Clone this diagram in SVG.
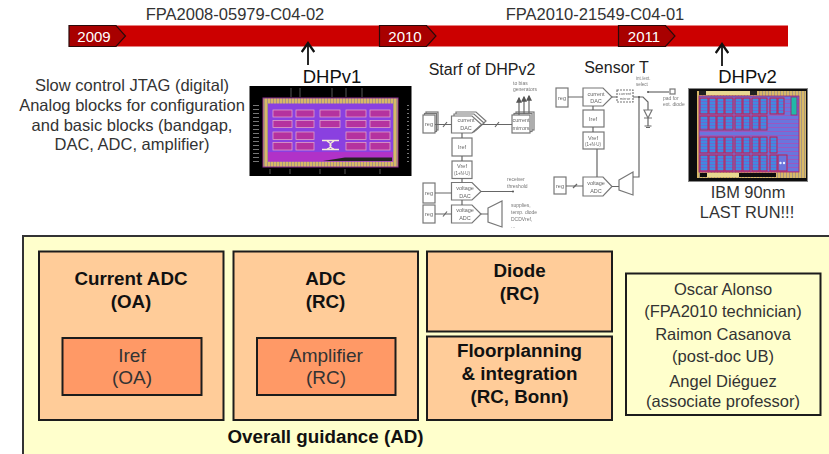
<svg xmlns="http://www.w3.org/2000/svg" width="829" height="454" viewBox="0 0 829 454">
<style>
text{font-family:"Liberation Sans",Arial,sans-serif;text-anchor:middle}
.lbl{fill:#333}
.sm{fill:#666;font-size:5.500px}
.tiny{fill:#777;font-size:5px;text-anchor:start}
.year{fill:#fff;font-size:15px}
.mark{fill:#a80000;stroke:#2a0a0a;stroke-width:1.2}
.box{fill:#ffcc99;stroke:#1c1c1c;stroke-width:2}
.inner{fill:#ff9966;stroke:#1c1c1c;stroke-width:2}
.b{font-weight:bold;font-size:18.800px;fill:#111}
.r{font-size:19px;fill:#333}
.p{font-size:16.500px;fill:#333}
.s{fill:#fff;stroke:#777;stroke-width:1.2}
.w{fill:none;stroke:#666;stroke-width:1.2}
.ar{fill:none;stroke:#111;stroke-width:1.8}
.b1{fill:#b5309f;stroke:#e0a0c8;stroke-width:.8}
.b2{fill:url(#cells);stroke:#c0204f;stroke-width:1}
</style>
<defs>
<filter id="soft" x="-5%" y="-5%" width="110%" height="110%"><feGaussianBlur stdDeviation="0.45"/></filter>
<pattern id="pads" width="3" height="3" patternUnits="userSpaceOnUse"><rect width="3" height="3" fill="#d8b868"/><rect width="1" height="3" fill="#a89880"/></pattern>
<pattern id="cells" width="8" height="3" patternUnits="userSpaceOnUse"><rect width="8" height="3" fill="#3f8ae0"/><rect y="2" width="8" height="1" fill="#6a68d0"/></pattern>
<pattern id="stripes" width="8" height="4" patternUnits="userSpaceOnUse"><rect width="8" height="4" fill="#6a74dc"/><rect y="3" width="8" height="1" fill="#9a58c0"/></pattern>
<pattern id="ticks" width="14" height="4" patternUnits="userSpaceOnUse"><rect x="1" y="1" width="6" height="1" fill="#777"/></pattern>
<marker id="ah" markerWidth="8" markerHeight="8" refX="6" refY="4" orient="auto"><path d="M1 0.5L6 4L1 7.5" fill="none" stroke="#111" stroke-width="1.3"/></marker>
<marker id="as" markerWidth="5" markerHeight="5" refX="4" refY="2.5" orient="auto"><path d="M0 0L5 2.5L0 5Z" fill="#555"/></marker>
</defs>
<rect width="829" height="454" fill="#fff"/>

<g id="timeline">
<rect x="69" y="25.500" width="719" height="21" fill="#cc0000"/>
<path class="mark" d="M69 25.500H116L125.500 36L116 46.500H69Z"/>
<text class="year" x="94" y="41.500">2009</text>
<path class="mark" d="M379.500 25.500H426.500L436 36L426.500 46.500H379.500Z"/>
<text class="year" x="405" y="41.500">2010</text>
<path class="mark" d="M618.500 25.500H665.500L675 36L665.500 46.500H618.500Z"/>
<text class="year" x="644" y="41.500">2011</text>
<text class="lbl" x="235" y="20" font-size="16.500">FPA2008-05979-C04-02</text>
<text class="lbl" x="595" y="20" font-size="16.500">FPA2010-21549-C04-01</text>
</g>

<g id="connectors">
<path class="ar" d="M308 65V43" marker-end="url(#ah)"/>
<path class="ar" d="M722 66V44" marker-end="url(#ah)"/>
</g>

<g id="intro-text">
<text class="lbl" font-size="16.500" x="132" y="90.500">Slow control JTAG (digital)</text>
<text class="lbl" font-size="16.500" x="132" y="110.500">Analog blocks for configuration</text>
<text class="lbl" font-size="16.500" x="132" y="130.500">and basic blocks (bandgap,</text>
<text class="lbl" font-size="16.500" x="132" y="150">DAC, ADC, amplifier)</text>
</g>

<g id="dhpv1">
<text x="332" y="83" font-size="18.500" fill="#111">DHPv1</text>
<g filter="url(#soft)">
<rect x="249.500" y="86" width="162" height="90" fill="#050505"/>
<rect x="252" y="104" width="10" height="60" fill="url(#ticks)"/><rect x="399" y="104" width="10" height="60" fill="url(#ticks)"/>
<path d="M291 88V97M300 88V97M332 88V97M346 88V97M362 88V97M270 169V174M290 169V174M320 169V174M345 169V174M380 169V174" stroke="#777" stroke-width=".7"/>
<rect x="263" y="98" width="135" height="69" fill="url(#pads)" stroke="#8a2f90"/>
<rect x="268" y="103.500" width="125" height="58" fill="#8a40e0"/>
<rect x="268" y="152" width="125" height="9.500" fill="#b030c8"/>
<g>
<rect class="b1" x="273" y="110" width="19" height="7"/><rect class="b1" x="296" y="110" width="18" height="7"/><rect class="b1" x="320" y="110" width="20" height="7"/><rect class="b1" x="346" y="110" width="20" height="7"/><rect class="b1" x="370" y="110" width="20" height="7"/>
<rect class="b1" x="273" y="120.500" width="19" height="7"/><rect class="b1" x="296" y="120.500" width="18" height="7"/><rect class="b1" x="320" y="120.500" width="20" height="7"/><rect class="b1" x="346" y="120.500" width="20" height="7"/><rect class="b1" x="370" y="120.500" width="20" height="7"/>
<rect class="b1" x="273" y="132" width="19" height="7.500"/><rect class="b1" x="296" y="132" width="18" height="7.500"/><rect class="b1" x="346" y="132" width="20" height="7.500"/><rect class="b1" x="370" y="132" width="20" height="7.500"/>
<rect class="b1" x="273" y="142.500" width="19" height="7.500"/><rect class="b1" x="296" y="142.500" width="18" height="7.500"/><rect class="b1" x="346" y="142.500" width="20" height="7.500"/><rect class="b1" x="370" y="142.500" width="20" height="7.500"/>
</g>
<path d="M322 140.500H339M322 149.500H339M327 141C330 143 331 144 331 145C331 146 330 148 327 149M334 141C331 143 330 144 330 145C330 146 331 148 334 149" stroke="#f4ecd8" stroke-width="1.300" fill="none"/>
<path d="M323 161L345 157.500H392V161Z" fill="#222"/>
</g>
</g>

<g id="starf" filter="url(#soft)">
<rect class="s" x="426" y="112" width="12" height="18"/><rect class="s" x="424.500" y="113.500" width="12" height="18"/><rect class="s" x="423" y="115" width="12" height="18"/>
<path class="s" d="M456 112H476L486 121L476 130H456Z"/><path class="s" d="M454 114H474L484 123L474 132H454Z"/><path class="s" d="M451.500 116H472L481.500 124.500L472 133H451.500Z"/>
<rect class="s" x="516" y="112" width="18" height="18"/><rect class="s" x="514" y="113.500" width="18" height="18"/><rect class="s" x="512" y="115" width="18" height="18"/>
<rect class="s" x="452" y="138" width="20" height="18"/>
<rect class="s" x="452" y="161" width="20" height="17.500"/>
<path class="s" d="M451.500 182.500H472L481 191.500L472 200H451.500Z"/>
<rect class="s" x="423" y="183" width="12" height="20"/>
<path class="s" d="M451.500 205H472L481 214L472 223H451.500Z"/>
<rect class="s" x="423" y="205" width="12" height="18"/>
<path class="s" d="M488 208L502 201V227L488 222Z"/>
<path class="w" d="M435 124.500H451.500M481.500 124.500H512M462 133V138M462 156V161M462 178.500V182.500M462 200V205M435 193H451.500M481 191.500H513M435 214H451.500M481 214H488"/>
<path class="w" d="M443 127L447 122M495 127L499 122M443 216.500L447 211.500"/>
<path class="w" d="M519 115V98" marker-end="url(#as)"/><path class="w" d="M524 114V97" marker-end="url(#as)"/><path class="w" d="M529 113V96" marker-end="url(#as)"/>
<circle cx="513" cy="191.500" r="1" fill="#555"/>
</g>
<text x="482" y="75" font-size="16" fill="#222" id="starf-title">Starf of DHPv2</text>
<g id="starf-text" filter="url(#soft)">
<text class="sm" x="429" y="126">reg</text>
<text class="sm" x="466" y="122">current</text><text class="sm" x="466" y="130">DAC</text>
<text class="sm" x="521" y="122">current</text><text class="sm" x="521" y="130">mirrors</text>
<text class="sm" x="462" y="149">Iref</text>
<text class="sm" x="462" y="168">Vref</text><text class="sm" x="462" y="175" style="font-size:4.500px">(1+N·U)</text>
<text class="sm" x="465" y="190">voltage</text><text class="sm" x="465" y="198">DAC</text>
<text class="sm" x="429" y="195">reg</text>
<text class="sm" x="465" y="212">voltage</text><text class="sm" x="465" y="220">ADC</text>
<text class="sm" x="429" y="216">reg</text>
<text class="tiny" x="513" y="85">to bias</text><text class="tiny" x="513" y="91">generators</text>
<text class="tiny" x="507" y="181">receiver</text><text class="tiny" x="507" y="188">threshold</text>
<text class="tiny" x="511" y="207">supplies,</text><text class="tiny" x="511" y="214">temp. diode</text><text class="tiny" x="511" y="221">DCDVref,</text><text class="tiny" x="511" y="228">...</text>
</g>

<g id="sensor" filter="url(#soft)">
<rect class="s" x="556" y="88" width="12" height="19"/>
<path class="s" d="M583 88H603L612 97L603 106H583Z"/>
<rect class="s" x="617" y="90" width="16" height="12" stroke-dasharray="2 1"/>
<rect class="s" x="583" y="110" width="21" height="17"/>
<rect class="s" x="583" y="132" width="21" height="17"/>
<path class="s" d="M583 177H603L612 186.500L603 196H583Z"/>
<rect class="s" x="554" y="177" width="12" height="17"/>
<path class="s" d="M619 180L633 172V195L619 190Z"/>
<path class="w" d="M568 97H583M612 97H617M633 97H643L648 102V110M648 118V126M644.500 126H651.500M646 127.500H650M593 106V110M593 127V132M597 149V177M566 186H583M612 186.500H619M633 177H639V97"/>
<path class="w" d="M648 92H669"/>
<path class="w" d="M573 188L577 184"/>
<path class="s" d="M644 110H652L648 118ZM644 118H652"/>
<rect class="s" x="670" y="89" width="5" height="5"/>
<circle cx="648" cy="92" r="1" fill="#555"/><circle cx="639" cy="97" r="1" fill="#555"/>
</g>
<text x="616.500" y="73" font-size="16" fill="#222" id="sensor-title">Sensor T</text>
<g id="sensor-text" filter="url(#soft)">
<text class="sm" x="562" y="100">reg</text>
<text class="sm" x="596" y="96">current</text><text class="sm" x="596" y="103">DAC</text>
<text class="sm" x="625" y="95" style="font-size:4px">current</text><text class="sm" x="625" y="100" style="font-size:4px">mirror</text>
<text class="sm" x="593" y="121">Iref</text>
<text class="sm" x="593" y="140">Vref</text><text class="sm" x="593" y="146" style="font-size:4.500px">(1+N·U)</text>
<text class="sm" x="596" y="185">voltage</text><text class="sm" x="596" y="193">ADC</text>
<text class="sm" x="560" y="188">reg</text>
<text class="tiny" x="636" y="80" style="font-size:4.500px">int./ext.</text><text class="tiny" x="636" y="86" style="font-size:4.500px">select</text>
<text class="tiny" x="663" y="100">pad for</text><text class="tiny" x="663" y="106">ext. diode</text>
</g>

<g id="dhpv2">
<text x="747.500" y="83" font-size="18.500" fill="#111">DHPv2</text>
<g filter="url(#soft)">
<rect x="688.500" y="88.500" width="119" height="93" fill="#0c0c0c" stroke="#888"/>
<rect x="693" y="91" width="113" height="87" fill="url(#pads)"/>
<rect x="693" y="91" width="4" height="87" fill="#0c0c0c"/>
<rect x="699" y="96" width="100" height="76" fill="url(#stripes)" stroke="#a02070" stroke-width=".8"/>
<rect x="699" y="91" width="7" height="4" fill="#222"/><rect x="706" y="91" width="44" height="4" fill="#e8d890"/><rect x="750" y="91" width="7" height="4" fill="#222"/>
<rect x="700" y="173" width="76" height="4" fill="#111"/><rect x="707" y="173" width="32" height="4" fill="#e8d890"/>
<rect class="b2" x="700" y="98" width="8" height="16"/><rect class="b2" x="709" y="98" width="7" height="16"/><rect class="b2" x="717" y="98" width="7" height="16"/><rect class="b2" x="725" y="98" width="8" height="16"/><rect class="b2" x="735" y="98" width="7" height="16"/><rect class="b2" x="743" y="98" width="7" height="16"/><rect class="b2" x="752" y="98" width="7" height="16"/><rect class="b2" x="760" y="98" width="7" height="16"/><rect class="b2" x="770" y="98" width="7" height="16"/><rect class="b2" x="778" y="98" width="6" height="16"/>
<rect class="b2" x="700" y="116" width="8" height="14"/><rect class="b2" x="709" y="116" width="7" height="14"/><rect class="b2" x="717" y="116" width="7" height="14"/><rect class="b2" x="725" y="116" width="8" height="14"/><rect class="b2" x="735" y="116" width="7" height="14"/><rect class="b2" x="743" y="116" width="7" height="14"/><rect class="b2" x="752" y="116" width="7" height="14"/><rect class="b2" x="760" y="116" width="7" height="14"/>
<rect class="b2" x="700" y="137" width="8" height="16"/><rect class="b2" x="709" y="137" width="7" height="16"/><rect class="b2" x="717" y="137" width="7" height="16"/><rect class="b2" x="725" y="137" width="8" height="16"/><rect class="b2" x="735" y="137" width="7" height="16"/><rect class="b2" x="743" y="137" width="7" height="16"/><rect class="b2" x="752" y="137" width="7" height="16"/><rect class="b2" x="760" y="137" width="7" height="16"/><rect class="b2" x="770" y="137" width="7" height="16"/>
<rect class="b2" x="700" y="155" width="8" height="16"/><rect class="b2" x="709" y="155" width="7" height="16"/><rect class="b2" x="717" y="155" width="7" height="16"/><rect class="b2" x="725" y="155" width="8" height="16"/><rect class="b2" x="735" y="155" width="7" height="16"/><rect class="b2" x="743" y="155" width="7" height="16"/><rect class="b2" x="752" y="155" width="7" height="16"/><rect class="b2" x="760" y="155" width="7" height="16"/><rect class="b2" x="770" y="155" width="7" height="16"/>
<rect x="778" y="155" width="9" height="16" fill="#6a74dc" stroke="#c0204f"/>
<circle cx="780.500" cy="163" r="1.200" fill="#e8f0ff"/><circle cx="784" cy="163" r="1.200" fill="#e8f0ff"/>
<rect x="791" y="97" width="6" height="18" fill="#20b8a8" stroke="#a02070" stroke-width=".8"/>
</g>
<text class="lbl" x="748" y="198" font-size="16.400">IBM 90nm</text>
<text class="lbl" x="747" y="218" font-size="16.400">LAST RUN!!!</text>
</g>

<rect id="panel" x="23" y="236" width="808" height="220" fill="#ffffcc" stroke="#333" stroke-width="2"/>

<g id="current-adc">
<rect class="box" x="39" y="251.500" width="184.500" height="168.500"/>
<text class="b" x="131" y="285">Current ADC</text><text class="b" x="131" y="308">(OA)</text>
</g>
<g id="iref">
<rect class="inner" x="62.500" y="338" width="139" height="57"/>
<text class="r" x="132" y="362">Iref</text><text class="r" x="132" y="384">(OA)</text>
</g>
<g id="adc">
<rect class="box" x="233.500" y="251.500" width="184.500" height="168.500"/>
<text class="b" x="325.500" y="285">ADC</text><text class="b" x="325.500" y="308">(RC)</text>
</g>
<g id="amplifier">
<rect class="inner" x="257" y="338" width="138.500" height="57"/>
<text class="r" x="326" y="362">Amplifier</text><text class="r" x="326" y="384">(RC)</text>
</g>
<g id="diode">
<rect class="box" x="427" y="251.500" width="185" height="80"/>
<text class="b" x="519.500" y="277">Diode</text><text class="b" x="519.500" y="300">(RC)</text>
</g>
<g id="floorplanning">
<rect class="box" x="427" y="336.500" width="185" height="83.500"/>
<text class="b" x="519.500" y="357">Floorplanning</text><text class="b" x="519.500" y="380">&amp; integration</text><text class="b" x="519.500" y="403">(RC, Bonn)</text>
</g>
<g id="people">
<rect x="626" y="273.500" width="194.500" height="141.500" fill="#ffffcc" stroke="#1c1c1c" stroke-width="2"/>
<text class="p" x="723" y="295">Oscar Alonso</text><text class="p" x="723" y="317">(FPA2010 technician)</text>
<text class="p" x="723" y="340">Raimon Casanova</text><text class="p" x="723" y="362">(post-doc UB)</text>
<text class="p" x="723" y="387">Angel Diéguez</text><text class="p" x="723" y="407">(associate professor)</text>
</g>
<text id="guidance" class="b" x="325.500" y="443">Overall guidance (AD)</text>
</svg>
